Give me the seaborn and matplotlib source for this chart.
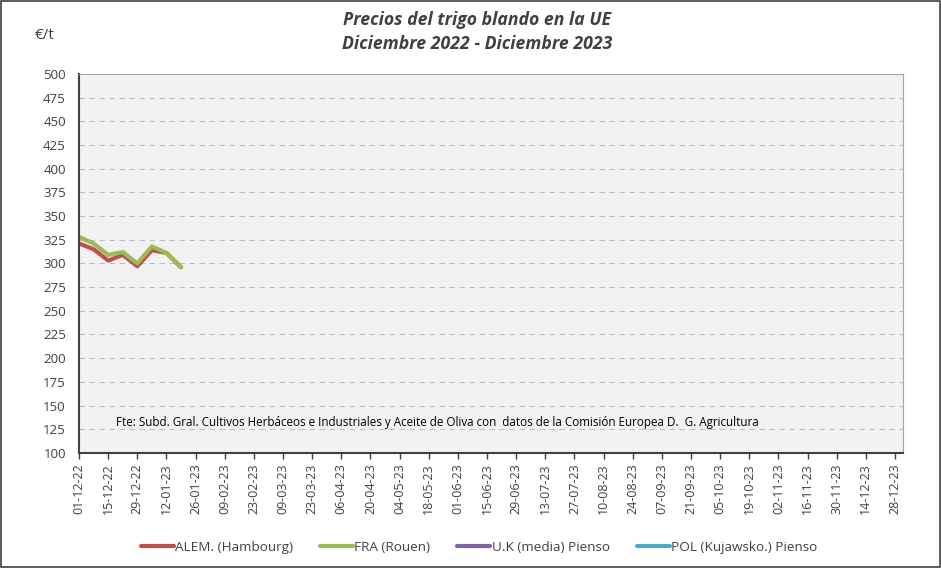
import pandas as pd
import numpy as np
import seaborn as sns
import matplotlib.pyplot as plt
import matplotlib.dates as mdates
from matplotlib.lines import Line2D

# weekly quotations (EUR/t)
dates = ["2022-12-01", "2022-12-08", "2022-12-15", "2022-12-22",
         "2022-12-29", "2023-01-05", "2023-01-12", "2023-01-19"]
alem = [321, 315, 303, 309, 297, 314, 311, 296]
fra = [328, 321, 309, 312, 300, 318, 311, 296]

series_names = ["ALEM. (Hambourg)", "FRA (Rouen)", "U.K (media) Pienso", "POL (Kujawsko.) Pienso"]
series_colors = ["#C0504D", "#9BBB59", "#8064A2", "#4BACC6"]

y_ticks = list(range(100, 501, 25))
title = "Precios del trigo blando en la UE\nDiciembre 2022 - Diciembre 2023"
source = ("Fte: Subd. Gral. Cultivos Herbáceos e Industriales y Aceite de Oliva con  "
          "datos de la Comisión Europea D.  G. Agricultura")

df = pd.DataFrame({
    "fecha": pd.to_datetime(dates * 2),
    "precio": alem + fra,
    "serie": [series_names[0]] * len(dates) + [series_names[1]] * len(dates),
})

sns.set_theme(style="white")
plt.rcParams["font.family"] = ["Open Sans", "DejaVu Sans"]

fig = plt.figure(figsize=(9.41, 5.68), dpi=100)
ax = fig.add_axes([0.084, 0.2025, 0.876, 0.6675])
ax.set_facecolor("#F2F2F2")

sns.lineplot(data=df, x="fecha", y="precio", hue="serie",
             hue_order=series_names[:2], palette=series_colors[:2],
             linewidth=3, ax=ax, legend=False)

ax.set_ylim(100, 500)
ax.set_yticks(y_ticks)
ax.grid(axis="y", color="#BFBFBF", linestyle=(0, (5, 4)), linewidth=0.8)
ax.set_axisbelow(True)

start = pd.Timestamp("2022-12-01")
ticks = pd.date_range(start, "2023-12-28", freq="14D")
ax.set_xlim(start, pd.Timestamp("2024-01-01"))
ax.set_xticks(ticks)
ax.xaxis.set_major_formatter(mdates.DateFormatter("%d-%m-%y"))
ax.tick_params(axis="x", rotation=90, labelsize=9, colors="#404040",
               bottom=True, length=4, width=1, direction="out")
ax.tick_params(axis="y", labelsize=9.5, colors="#404040", left=False)
ax.set_xlabel("")
ax.set_ylabel("")

for side in ["left", "bottom"]:
    ax.spines[side].set_color("#404040")
    ax.spines[side].set_linewidth(1.5)
for side in ["top", "right"]:
    ax.spines[side].set_color("#A6A6A6")
    ax.spines[side].set_linewidth(0.8)

fig.text(0.507, 0.944, title, ha="center", va="center", fontsize=12.7,
         fontweight="bold", style="italic", color="#404040", linespacing=1.45)
fig.text(0.037, 0.937, "€/t", fontsize=11, color="#404040", va="center")
ax.text(0.045, 0.07, source, transform=ax.transAxes, fontsize=8.35, color="black")

handles = [Line2D([], [], color=c, linewidth=3) for c in series_colors]
fig.legend(handles, series_names, loc="center", bbox_to_anchor=(0.509, 0.036),
           ncol=4, frameon=False, fontsize=9.7, handlelength=2.45,
           handletextpad=0.1, columnspacing=2.0, labelcolor="#404040")

fig.patches.append(plt.Rectangle((0.001, 0.001), 0.998, 0.997, transform=fig.transFigure,
                                 fill=False, edgecolor="#404040", linewidth=1.2))

fig.savefig("out.png", dpi=100)
